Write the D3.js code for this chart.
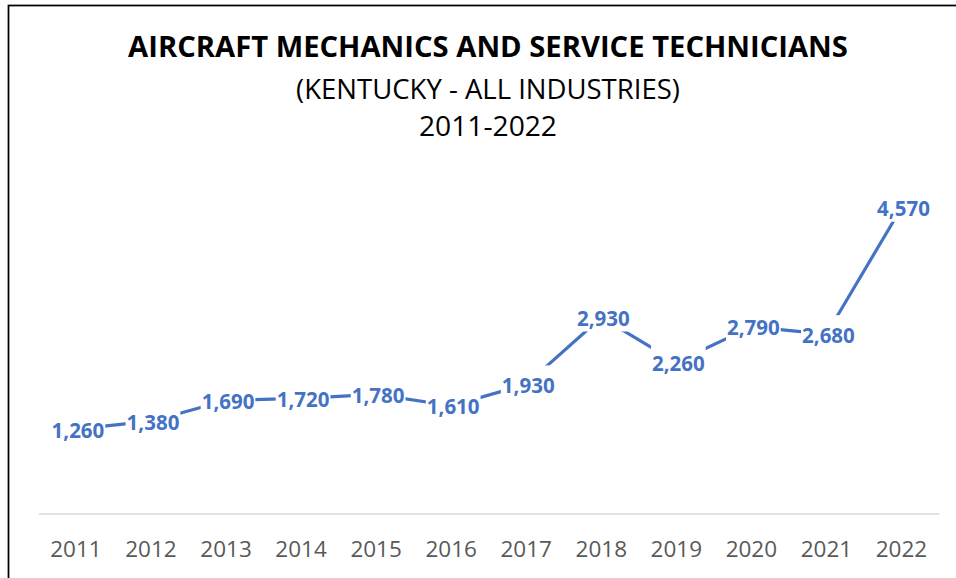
<!DOCTYPE html>
<html>
<head>
<meta charset="utf-8">
<script src="https://cdn.jsdelivr.net/npm/d3@7"></script>
<style>
  html, body { margin: 0; padding: 0; background: #fff; }
  svg { display: block; }
</style>
</head>
<body>
<svg id="chart" width="956" height="578"></svg>
<script>
// Employment by year
const years = ["2011","2012","2013","2014","2015","2016","2017","2018","2019","2020","2021","2022"];
const employment = [1260,1380,1690,1720,1780,1610,1930,2930,2260,2790,2680,4570];
const titleLines = ["AIRCRAFT MECHANICS AND SERVICE TECHNICIANS", "(KENTUCKY - ALL INDUSTRIES)", "2011-2022"];

const FONT = "'Open Sans', 'Noto Sans', sans-serif";
const LINE_COLOR = "#4472C4";

const svg = d3.select("#chart");

// Outer chart frame
svg.append("rect")
  .attr("x", 8.5).attr("y", 5.5)
  .attr("width", 960).attr("height", 600)
  .attr("fill", "#fff")
  .attr("stroke", "#000")
  .attr("stroke-width", 1.75);

// Titles
const cx = 488;
svg.append("text")
  .attr("x", cx).attr("y", 57)
  .attr("text-anchor", "middle")
  .attr("font-family", FONT).attr("font-weight", 700).attr("font-size", 29.2)
  .attr("fill", "#000")
  .text(titleLines[0]);
svg.append("text")
  .attr("x", cx).attr("y", 98.5)
  .attr("text-anchor", "middle")
  .attr("font-family", FONT).attr("font-size", 27.5)
  .attr("fill", "#000")
  .text(titleLines[1]);
svg.append("text")
  .attr("x", cx).attr("y", 136)
  .attr("text-anchor", "middle")
  .attr("font-family", FONT).attr("font-size", 28.2)
  .attr("fill", "#000")
  .text(titleLines[2]);

// Scales
const x = d3.scaleBand().domain(years).range([38.4, 939]);
const y = d3.scaleLinear().domain([0, 5000]).range([513.5, 179]);
const px = d => x(d) + x.bandwidth() / 2;

// Category axis
const xAxis = svg.append("g")
  .attr("transform", `translate(0,${y(0)})`)
  .call(d3.axisBottom(x).tickSize(0).tickPadding(0));
xAxis.select(".domain").attr("stroke", "#d9d9d9").attr("stroke-width", 1.5);
xAxis.selectAll(".tick text")
  .attr("dy", null)
  .attr("y", 43.5)
  .attr("font-family", FONT)
  .attr("font-size", 22.5)
  .attr("fill", "#595959");

// Series line
const data = years.map((yr, i) => ({ year: yr, value: employment[i] }));
svg.append("path")
  .datum(data)
  .attr("fill", "none")
  .attr("stroke", LINE_COLOR)
  .attr("stroke-width", 3.2)
  .attr("stroke-linejoin", "round")
  .attr("d", d3.line().x(d => px(d.year)).y(d => y(d.value)));

// Data labels with white backing boxes
const fmt = d3.format(",");
const labels = svg.append("g").selectAll("g")
  .data(data)
  .join("g")
  .attr("transform", d => `translate(${px(d.year) + 2},${y(d.value)})`);

const labelText = labels.append("text")
  .attr("text-anchor", "middle")
  .attr("y", 8.5)
  .attr("font-family", FONT)
  .attr("font-weight", 700)
  .attr("font-size", 20.5)
  .attr("fill", LINE_COLOR)
  .text(d => fmt(d.value));

labelText.each(function() {
  const bb = this.getBBox();
  d3.select(this.parentNode).insert("rect", "text")
    .attr("x", bb.x - 1)
    .attr("y", -19)
    .attr("width", bb.width + 2)
    .attr("height", 33)
    .attr("fill", "#fff");
});
</script>
</body>
</html>
